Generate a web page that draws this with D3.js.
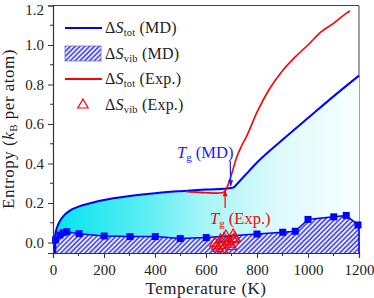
<!DOCTYPE html>
<html>
<head>
<meta charset="utf-8">
<script src="https://cdn.jsdelivr.net/npm/d3@7"></script>
<style>
  body { margin: 0; background: #fff; }
  text { font-family: "Liberation Serif", "Times New Roman", serif; }
</style>
</head>
<body>
<div id="chart"></div>
<script>
// total entropy, MD (T in K, S in kB per atom)
var totMD_T = [4, 6, 9, 13, 20, 30, 45, 70, 100, 150, 200, 300, 400, 500, 600, 700, 710, 720, 760, 800, 900, 1000, 1100, 1200];
var totMD_S = [-0.053, 0.0, 0.04, 0.065, 0.09, 0.115, 0.14, 0.165, 0.182, 0.2, 0.215, 0.235, 0.25, 0.26, 0.268, 0.276, 0.28, 0.294, 0.35, 0.405, 0.52, 0.63, 0.74, 0.845];

// vibrational entropy, MD (squares)
var vibMD_T = [10, 27, 40, 54, 102, 201, 302, 401, 499, 601, 800, 901, 950, 1000, 1101, 1150, 1196];
var vibMD_S = [0.013, 0.038, 0.05, 0.055, 0.045, 0.033, 0.03, 0.03, 0.02, 0.025, 0.043, 0.052, 0.057, 0.117, 0.13, 0.137, 0.089];

// total entropy, experiment
var totExp_T = [520, 560, 600, 640, 665, 680, 690, 700, 720, 740, 760, 800, 850, 900, 950, 1000, 1050, 1100, 1150, 1165];
var totExp_S = [0.258, 0.255, 0.252, 0.25, 0.252, 0.27, 0.305, 0.345, 0.43, 0.49, 0.54, 0.66, 0.78, 0.87, 0.94, 1.0, 1.065, 1.11, 1.16, 1.172];

// vibrational entropy, experiment (triangles)
var vibExp_T = [635, 642, 648, 655, 657, 665, 671, 678, 688, 694, 701, 707, 707, 714];
var vibExp_S = [-0.004, -0.018, -0.03, -0.013, 0.013, -0.038, 0.021, 0.033, 0.004, -0.008, -0.021, 0.038, 0.013, 0.021];

var xTicks = [0, 200, 400, 600, 800, 1000, 1200];
var yTicks = [0.0, 0.2, 0.4, 0.6, 0.8, 1.0, 1.2];

var W = 374, H = 298;
var pLeft = 53, pRight = 359, pTop = 5.5, pBottom = 253;
var yMin = -0.053;

var svg = d3.select("#chart").append("svg")
    .attr("width", W).attr("height", H);

var x = d3.scaleLinear().domain([0, 1200]).range([pLeft, pRight]);
var y = d3.scaleLinear().domain([yMin, 1.2]).range([pBottom, pTop]);

function zip(a, b) { return a.map(function(d, i) { return [d, b[i]]; }); }
var totMD = zip(totMD_T, totMD_S),
    vibMD = zip(vibMD_T, vibMD_S),
    totExp = zip(totExp_T, totExp_S),
    vibExp = zip(vibExp_T, vibExp_S);

var defs = svg.append("defs");

var grad = defs.append("linearGradient")
    .attr("id", "cyanfade")
    .attr("gradientUnits", "userSpaceOnUse")
    .attr("x1", pLeft).attr("x2", pRight).attr("y1", 0).attr("y2", 0);
[[0, "#00e4ee"], [0.3, "#5ceef3"], [0.5, "#a8f5f7"], [0.75, "#e0fbfc"], [1, "#f8ffff"]]
  .forEach(function(s) {
    grad.append("stop").attr("offset", s[0]).attr("stop-color", s[1]);
  });

var hatch = defs.append("pattern")
    .attr("id", "hatch")
    .attr("patternUnits", "userSpaceOnUse")
    .attr("width", 3.4).attr("height", 3.4)
    .attr("patternTransform", "rotate(45)");
hatch.append("rect").attr("width", 3.4).attr("height", 3.4).attr("fill", "#eef0ff");
hatch.append("line")
    .attr("x1", 0.9).attr("y1", 0).attr("x2", 0.9).attr("y2", 3.4)
    .attr("stroke", "#3a3af5").attr("stroke-width", 1.5);

// frame (top and right)
svg.append("path")
    .attr("d", "M" + pLeft + "," + pTop + "H" + pRight + "V" + pBottom)
    .attr("fill", "none").attr("stroke", "#444").attr("stroke-width", 1);

// cyan area under total MD entropy
var area = d3.area()
    .x(function(d) { return x(d[0]); })
    .y0(y(yMin))
    .y1(function(d) { return y(d[1]); })
    .curve(d3.curveMonotoneX);
svg.append("path").datum(totMD)
    .attr("d", area).attr("fill", "url(#cyanfade)");

// hatched vibrational area
var vibArea = d3.area()
    .x(function(d) { return x(d[0]); })
    .y0(y(yMin))
    .y1(function(d) { return y(d[1]); });
var vibFill = [[vibMD_T[0], yMin]].concat(vibMD).concat([[1200, vibMD_S[vibMD_S.length - 1]]]);
svg.append("path").datum(vibFill)
    .attr("d", vibArea).attr("fill", "url(#hatch)");

var line = d3.line()
    .x(function(d) { return x(d[0]); })
    .y(function(d) { return y(d[1]); });

svg.append("path").datum(vibFill.concat([[1200, yMin]]))
    .attr("d", line).attr("fill", "none")
    .attr("stroke", "#0000ff").attr("stroke-width", 1.5);

svg.selectAll(".sq").data(vibMD).enter().append("rect")
    .attr("x", function(d) { return x(d[0]) - 3.5; })
    .attr("y", function(d) { return y(d[1]) - 3.5; })
    .attr("width", 7).attr("height", 7)
    .attr("fill", "#0000ff");

// total MD line
svg.append("path").datum(totMD)
    .attr("d", line.curve(d3.curveMonotoneX))
    .attr("fill", "none").attr("stroke", "#0000ff").attr("stroke-width", 2);

// total experimental line
svg.append("path").datum(totExp)
    .attr("d", line.curve(d3.curveMonotoneX))
    .attr("fill", "none").attr("stroke", "#ff0000").attr("stroke-width", 1.6);

// experimental vib triangles
var tri = d3.symbol().type(d3.symbolTriangle).size(46);
svg.selectAll(".tri").data(vibExp).enter().append("path")
    .attr("d", tri)
    .attr("transform", function(d) { return "translate(" + x(d[0]) + "," + y(d[1]) + ")"; })
    .attr("fill", "none").attr("stroke", "#ff0000").attr("stroke-width", 1.2);

// axes
var xAxis = d3.axisBottom(x).tickValues(xTicks).tickSize(5).tickPadding(6).tickFormat(d3.format("d"));
var gx = svg.append("g").attr("transform", "translate(0," + pBottom + ")").call(xAxis);
gx.selectAll(".minor").data(d3.range(100, 1200, 200)).enter().append("line")
    .attr("x1", function(d) { return x(d); }).attr("x2", function(d) { return x(d); })
    .attr("y1", 0).attr("y2", 3).attr("stroke", "#333");

var yAxis = d3.axisLeft(y).tickValues(yTicks).tickSize(5).tickPadding(4).tickFormat(d3.format(".1f"));
var gy = svg.append("g").attr("transform", "translate(" + pLeft + ",0)").call(yAxis);
gy.selectAll(".minor").data(d3.range(0.1, 1.2, 0.2)).enter().append("line")
    .attr("y1", function(d) { return y(d); }).attr("y2", function(d) { return y(d); })
    .attr("x1", 0).attr("x2", -3).attr("stroke", "#333");

[gx, gy].forEach(function(g) {
  g.selectAll("path.domain").attr("stroke", "#333").attr("stroke-width", 1.2);
  g.selectAll(".tick line").attr("stroke", "#333");
  g.selectAll("text").attr("font-size", 15).attr("fill", "#222")
    .attr("font-family", "Liberation Serif, serif");
});
// keep the top label inside the picture
gy.selectAll(".tick text").filter(function(d) { return d === 1.2; }).attr("dy", "0.62em");

// axis titles
svg.append("text")
    .attr("x", (pLeft + pRight) / 2).attr("y", 294)
    .attr("text-anchor", "middle").attr("font-size", 17).attr("fill", "#222")
    .attr("letter-spacing", 0.5)
    .text("Temperature (K)");

var yt = svg.append("text")
    .attr("transform", "translate(14,129)rotate(-90)")
    .attr("text-anchor", "middle").attr("font-size", 17).attr("fill", "#222")
    .attr("letter-spacing", 0.5);
yt.append("tspan").text("Entropy (");
yt.append("tspan").attr("font-style", "italic").text("k");
yt.append("tspan").attr("font-size", 11).attr("dy", 3).text("B");
yt.append("tspan").attr("dy", -3).text(" per atom)");

// legend
var legendNames = ["tot", "vib", "tot", "vib"];
var legendSrc = ["(MD)", "(MD)", "(Exp.)", "(Exp.)"];
var legendY = [28, 54, 79, 105];
var lg = svg.append("g");
legendNames.forEach(function(n, i) {
  var ly = legendY[i];
  if (i === 0 || i === 2) {
    lg.append("line").attr("x1", 65).attr("x2", 102).attr("y1", ly).attr("y2", ly)
      .attr("stroke", i === 0 ? "#0000ff" : "#ff0000").attr("stroke-width", 1.8);
  } else if (i === 1) {
    lg.append("rect").attr("x", 65).attr("y", ly - 8).attr("width", 36).attr("height", 15)
      .attr("fill", "url(#hatch)").attr("stroke", "#7070c0").attr("stroke-width", 0.8);
  } else {
    lg.append("path").attr("d", tri)
      .attr("transform", "translate(83," + ly + ")")
      .attr("fill", "none").attr("stroke", "#ff0000").attr("stroke-width", 1.2);
  }
  var t = lg.append("text").attr("x", 105).attr("y", ly + 5)
      .attr("font-size", 16).attr("fill", "#222").attr("letter-spacing", 0.2);
  t.append("tspan").text("\u0394");
  t.append("tspan").attr("font-style", "italic").text("S");
  t.append("tspan").attr("font-size", 10.5).attr("dy", 3).text(n);
  t.append("tspan").attr("dy", -3).text(" " + legendSrc[i]);
});

// Tg annotations
function tgLabel(px, py, color, src) {
  var t = svg.append("text").attr("x", px).attr("y", py)
      .attr("font-size", 16.5).attr("fill", color);
  t.append("tspan").attr("font-style", "italic").text("T");
  t.append("tspan").attr("font-size", 11).attr("dy", 3).text("g");
  t.append("tspan").attr("dy", -3).text(" " + src);
}
tgLabel(177, 158, "#1a1aff", "(MD)");
tgLabel(210, 224, "#ff0000", "(Exp.)");

function arrow(x1, y1, x2, y2, color) {
  svg.append("line").attr("x1", x1).attr("y1", y1).attr("x2", x2).attr("y2", y2)
    .attr("stroke", color).attr("stroke-width", 1.2);
  var a = Math.atan2(y2 - y1, x2 - x1);
  var L = 6, w = 2.5;
  var p = [[x2, y2],
           [x2 - L * Math.cos(a) + w * Math.sin(a), y2 - L * Math.sin(a) - w * Math.cos(a)],
           [x2 - L * Math.cos(a) - w * Math.sin(a), y2 - L * Math.sin(a) + w * Math.cos(a)]];
  svg.append("path").attr("d", "M" + p.join("L") + "Z").attr("fill", color);
}
arrow(x(695), 161, x(697), y(0.285), "#1a1aff");
arrow(x(675), 208, x(675), y(0.265), "#ff0000");
</script>
</body>
</html>
